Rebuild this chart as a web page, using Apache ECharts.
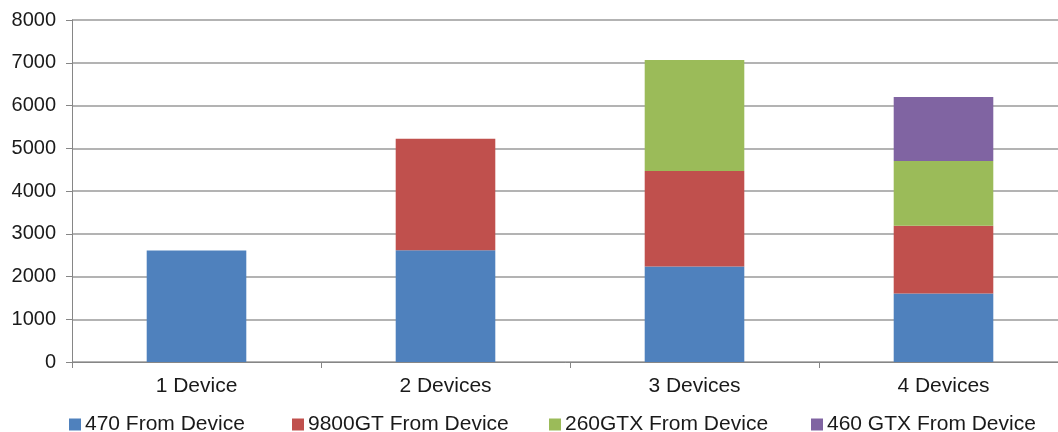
<!DOCTYPE html>
<html>
<head>
<meta charset="utf-8">
<script src="https://cdn.jsdelivr.net/npm/echarts@6/dist/echarts.min.js"></script>
<style>
html,body{margin:0;padding:0;background:#fff;}
#chart{width:1058px;height:432px;}
</style>
</head>
<body>
<div id="chart"></div>
<script>
const categories = ['1 Device', '2 Devices', '3 Devices', '4 Devices'];
const seriesNames = ['470 From Device', '9800GT From Device', '260GTX From Device', '460 GTX From Device'];
const s470 = [2610, 2615, 2234, 1601];
const s9800 = [null, 2606, 2231, 1584];
const s260 = [null, null, 2599, 1514];
const s460 = [null, null, null, 1499];
const yTicks = { min: 0, max: 8000, interval: 1000 };

const colors = ['#4F81BD', '#C0504D', '#9BBB59', '#8064A2'];
const legendLeft = [64, 287, 544, 806];
const font = 'Liberation Sans, Arial, sans-serif';

const chart = echarts.init(document.getElementById('chart'));
const allData = [s470, s9800, s260, s460];
chart.setOption({
  animation: false,
  color: colors,
  grid: { left: 72, top: 20, width: 996, height: 342, outerBoundsMode: 'none', containLabel: false },
  legend: seriesNames.map((n, i) => ({
    data: [n], left: legendLeft[i], top: 409, itemWidth: 12, itemHeight: 12, itemGap: 0,
    icon: 'rect', textStyle: { fontSize: 21, fontFamily: font, color: '#1a1a1a', padding: [0, 0, 0, -1] }
  })),
  xAxis: {
    type: 'category', data: categories,
    axisLine: { lineStyle: { color: '#868686', width: 1 } },
    axisTick: { show: true, length: 6, lineStyle: { color: '#868686' } },
    axisLabel: { fontSize: 21, fontFamily: font, color: '#1a1a1a', margin: 14 },
    splitLine: { show: false }
  },
  yAxis: {
    type: 'value', min: yTicks.min, max: yTicks.max, interval: yTicks.interval,
    axisLine: { show: true, lineStyle: { color: '#868686', width: 1 } },
    axisTick: { show: true, length: 6, lineStyle: { color: '#868686' } },
    axisLabel: { fontSize: 20, fontFamily: font, color: '#1a1a1a', margin: 16, formatter: v => String(v) },
    splitLine: { lineStyle: { color: '#9a9a9a', width: 1.5 } }
  },
  series: seriesNames.map((n, i) => ({
    name: n, type: 'bar', stack: 'total', data: allData[i], barWidth: '40%',
    itemStyle: { color: colors[i] }
  }))
});
</script>
</body>
</html>
